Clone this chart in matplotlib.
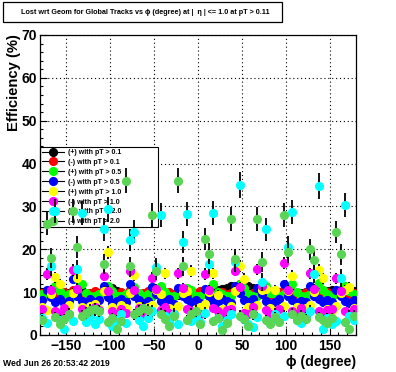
import numpy as np
import matplotlib
matplotlib.use("Agg")
import matplotlib.pyplot as plt
from matplotlib.lines import Line2D
from matplotlib.patches import Rectangle
from matplotlib.ticker import MultipleLocator

plt.rcParams["font.family"] = ["Liberation Sans", "DejaVu Sans"]
plt.rcParams["font.weight"] = "bold"

# ==== data: efficiency (%) in 5 degree phi bins ====
phi = np.arange(-177.5, 180, 5.0)

eff_pos_01 = [10.0, 9.5, 9.8, 10.2, 9.6, 9.4, 9.8, 9.5, 10.0, 10.3, 9.8, 9.5, 9.6, 9.8, 10.0, 10.8, 11.0, 10.2,
              9.6, 9.4, 9.8, 10.0, 9.6, 9.5, 9.8, 9.6, 9.5, 10.0, 9.8, 9.5, 9.6, 9.4, 9.5, 9.8, 10.2, 9.8,
              9.6, 9.5, 9.8, 10.2, 10.5, 10.8, 11.0, 11.5, 11.2, 11.8, 12.0, 11.5, 11.0, 10.5, 10.2, 10.0, 9.8, 9.5,
              9.8, 10.0, 10.2, 10.0, 9.6, 9.8, 10.0, 10.2, 10.5, 10.0, 9.8, 10.2, 10.5, 10.0, 9.8, 10.2, 10.5, 10.2]
eff_neg_01 = [9.8, 10.2, 9.5, 9.2, 9.8, 10.0, 9.5, 10.5, 10.0, 9.2, 9.5, 9.8, 10.2, 9.6, 10.5, 9.8, 9.3, 9.6,
              10.0, 9.5, 10.6, 10.0, 9.4, 9.8, 10.2, 10.5, 9.8, 9.2, 9.5, 10.0, 9.6, 10.4, 10.0, 9.5, 9.2, 9.8,
              10.2, 10.5, 9.8, 9.4, 9.6, 10.0, 9.5, 9.8, 10.5, 10.0, 9.5, 9.2, 9.8, 10.4, 10.2, 9.6, 9.3, 9.8,
              10.0, 10.6, 10.0, 9.5, 9.2, 9.6, 10.0, 10.5, 10.2, 9.5, 9.8, 10.0, 9.4, 10.2, 10.5, 9.8, 9.5, 9.8]
eff_pos_05 = [9.5, 9.0, 9.8, 11.5, 10.2, 9.2, 9.5, 9.0, 10.5, 11.8, 9.8, 9.2, 9.0, 9.5, 9.8, 11.5, 10.2, 9.2,
              9.0, 9.6, 10.0, 11.2, 9.8, 9.0, 9.5, 9.2, 10.2, 11.5, 10.0, 9.2, 9.0, 9.5, 10.0, 11.0, 10.5, 9.2,
              9.0, 9.5, 10.2, 11.8, 10.0, 9.5, 9.0, 9.2, 10.5, 12.0, 11.0, 9.5, 9.2, 9.0, 10.2, 11.5, 9.8, 9.5,
              9.0, 9.5, 10.5, 11.8, 10.0, 9.2, 9.0, 9.5, 10.2, 12.2, 10.5, 9.5, 9.2, 9.5, 10.5, 11.5, 10.2, 9.5]
eff_neg_05 = [8.2, 10.5, 8.8, 7.8, 8.5, 7.5, 8.0, 13.0, 9.2, 8.0, 7.2, 8.5, 7.8, 8.2, 11.5, 8.8, 7.5, 8.0,
              8.5, 7.8, 11.8, 9.0, 8.2, 7.5, 8.0, 11.2, 9.5, 8.0, 7.8, 8.5, 7.2, 11.0, 9.2, 8.5, 7.8, 8.2,
              7.5, 10.8, 9.0, 8.0, 7.6, 8.5, 8.0, 7.5, 11.5, 9.8, 8.2, 7.8, 8.5, 11.0, 9.5, 8.0, 7.2, 7.8,
              8.5, 11.8, 9.0, 8.2, 7.5, 8.0, 7.8, 11.5, 9.2, 8.5, 7.6, 8.2, 7.8, 10.5, 9.0, 8.0, 7.5, 8.2]
eff_pos_10 = [6.5, 5.8, 9.5, 13.5, 11.9, 6.0, 7.0, 9.8, 13.3, 6.5, 5.5, 6.8, 7.2, 6.0, 10.2, 19.3, 6.5, 5.8,
              7.0, 6.2, 9.8, 14.0, 6.8, 5.5, 6.5, 7.0, 10.5, 9.5, 14.4, 6.2, 5.8, 6.8, 9.8, 10.2, 14.9, 6.0,
              6.5, 7.2, 10.0, 14.4, 9.3, 6.0, 5.5, 6.8, 10.2, 16.2, 13.1, 6.5, 5.8, 7.0, 10.5, 10.8, 6.2, 10.5,
              6.0, 6.8, 10.2, 13.8, 6.5, 5.8, 6.2, 7.0, 10.0, 15.2, 13.2, 6.0, 5.5, 6.8, 9.8, 10.5, 11.1, 6.2]
eff_neg_10 = [6.0, 14.2, 10.5, 5.5, 4.8, 6.2, 5.0, 15.2, 10.8, 6.0, 5.2, 4.5, 6.5, 5.8, 13.8, 10.2, 5.5, 4.8,
              6.0, 5.2, 14.9, 10.5, 6.2, 5.0, 4.5, 13.4, 10.8, 5.8, 6.5, 5.2, 4.8, 14.4, 11.0, 6.0, 5.5, 4.2,
              5.0, 14.2, 10.5, 6.2, 5.5, 4.5, 5.8, 6.0, 15.0, 11.2, 5.2, 4.8, 6.5, 15.3, 11.5, 5.8, 5.0, 4.5,
              6.0, 16.9, 10.5, 5.5, 4.8, 6.2, 5.0, 14.4, 10.8, 5.5, 4.2, 5.8, 6.0, 13.2, 10.2, 5.5, 4.8, 6.0]
eff_pos_20 = [4.0, 2.8, 16.0, 29.0, 3.5, 1.5, 4.5, 3.2, 15.3, 28.5, 3.0, 4.2, 2.5, 3.8, 24.7, 29.3, 2.0, 3.5,
              4.8, 2.8, 22.2, 24.1, 3.5, 2.2, 4.0, 5.5, 15.8, 28.0, 4.5, 3.0, 5.0, 2.5, 21.8, 28.2, 3.2, 4.5,
              3.0, 5.2, 16.6, 28.4, 4.0, 2.0, 3.5, 4.8, 17.0, 35.0, 3.8, 2.5, 1.8, 4.2, 12.4, 24.7, 3.0, 5.0,
              3.8, 4.5, 20.5, 28.8, 3.5, 2.8, 4.2, 5.5, 14.2, 34.8, 1.5, 4.0, 2.5, 3.2, 13.2, 30.3, 4.5, 3.5]
eff_neg_20 = [3.5, 26.0, 18.0, 4.2, 2.5, 3.8, 5.0, 29.0, 20.5, 4.5, 5.2, 5.8, 6.0, 5.5, 16.6, 3.0, 4.0, 1.5,
              3.2, 36.0, 16.0, 4.8, 5.5, 6.2, 5.8, 28.0, 15.0, 5.0, 3.8, 2.0, 4.5, 36.0, 16.0, 3.5, 5.0, 5.5,
              2.5, 22.4, 19.0, 3.2, 4.0, 1.2, 2.8, 27.0, 17.7, 4.5, 3.8, 2.2, 4.8, 27.0, 17.0, 3.5, 2.5, 4.2,
              3.0, 28.0, 19.3, 5.0, 3.5, 4.5, 3.8, 20.0, 17.5, 4.2, 3.5, 2.8, 4.0, 24.0, 18.8, 3.0, 1.5, 4.5]

# tracks per phi bin, used for the binomial error bars
n_tracks = [6000, 6000, 2000, 2000, 700, 700, 260, 260]

labels = ["(+) with pT > 0.1", "(-) with pT > 0.1", "(+) with pT > 0.5", "(-) with pT > 0.5",
          "(+) with pT > 1.0", "(-) with pT > 1.0", "(+) with pT > 2.0", "(-) with pT > 2.0"]
colors = ["#000000", "#ff0000", "#00ff00", "#0000ff", "#ffff00", "#ff00ff", "#00ffff", "#59d454"]
series = [eff_pos_01, eff_neg_01, eff_pos_05, eff_neg_05, eff_pos_10, eff_neg_10, eff_pos_20, eff_neg_20]

fig = plt.figure(figsize=(3.96, 3.72), dpi=100)
ax = fig.add_axes([40 / 396, 37 / 372, 316 / 396, 300 / 372])

handles = []
for k, (vals, n, c, lab) in enumerate(zip(series, n_tracks, colors, labels)):
    v = np.array(vals)
    p = v / 100.0
    err = 100.0 * np.sqrt(p * (1 - p) / n)
    ax.errorbar(phi, v, yerr=err, fmt="o", ms=6.6, mfc=c, mec=c, mew=0,
                ecolor="black", elinewidth=1.3, capsize=0, zorder=3 + k)
    handles.append(Line2D([], [], color="black", lw=0.8, marker="o", ms=6.6,
                          mfc=c, mec=c, mew=0, label=lab))

ax.set_xlim(-180, 180)
ax.set_ylim(0, 70)
ax.set_axisbelow(True)
ax.grid(True, which="major", color="black", linestyle=(0, (1, 2.5)), linewidth=0.8)

ax.xaxis.set_major_locator(MultipleLocator(50))
ax.xaxis.set_minor_locator(MultipleLocator(10))
ax.yaxis.set_major_locator(MultipleLocator(10))
ax.yaxis.set_minor_locator(MultipleLocator(2))
ax.tick_params(which="both", direction="in", top=False, right=False, labelsize=10, width=0.8)
ax.tick_params(which="major", length=5)
ax.tick_params(which="minor", length=2.5)
ax.tick_params(axis="x", pad=3)
ax.tick_params(axis="y", pad=2)
for sp in ax.spines.values():
    sp.set_linewidth(0.9)

leg = ax.legend(handles=handles, loc="upper left", bbox_to_anchor=(0.0, 0.627, 0.373, 0.0),
                mode="expand", fontsize=5.0, frameon=True, fancybox=False, edgecolor="black",
                facecolor="white", framealpha=1, borderaxespad=0, borderpad=0.3,
                handlelength=3.2, handletextpad=0.5, labelspacing=0.42)
leg.get_frame().set_linewidth(0.8)
leg.set_zorder(2)

# title box
fig.patches.append(Rectangle((3 / 396, 1 - 22 / 372), 279 / 396, 20 / 372, transform=fig.transFigure,
                             facecolor="white", edgecolor="black", linewidth=0.9))
fig.text(145 / 396, 1 - 12 / 372,
         "Lost wrt Geom for Global Tracks vs \u03d5 (degree) at |  \u03b7 | <= 1.0 at pT > 0.11",
         ha="center", va="center", fontsize=5.2)

fig.text(14 / 396, 1 - 34 / 372, "Efficiency (%)", rotation=90, ha="center", va="top", fontsize=10.6)
fig.text(356 / 396, 1 - 362 / 372, "\u03d5 (degree)", ha="right", va="center", fontsize=10.2)
fig.text(3 / 396, 1 - 364 / 372, "Wed Jun 26 20:53:42 2019", ha="left", va="center", fontsize=6.2)

fig.savefig("out.png", dpi=100)
